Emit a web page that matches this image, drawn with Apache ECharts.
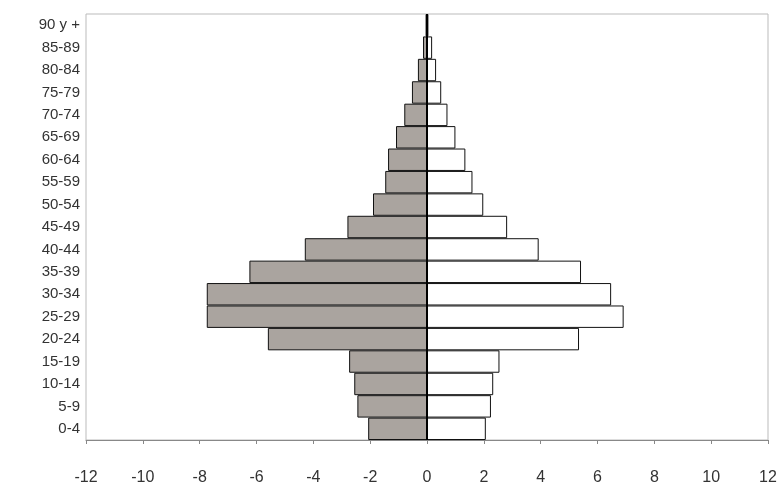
<!DOCTYPE html>
<html><head><meta charset="utf-8">
<script src="https://cdn.jsdelivr.net/npm/echarts@6/dist/echarts.min.js"></script>
<style>html,body{margin:0;background:#fff}#c{width:783px;height:489px}</style>
</head><body><div id="c"></div>
<script>
// age groups, bottom to top
const ageGroups = ['0-4','5-9','10-14','15-19','20-24','25-29','30-34','35-39','40-44','45-49','50-54','55-59','60-64','65-69','70-74','75-79','80-84','85-89','90 y +'];
// left side (negative) and right side shares, %
const leftValues = [-2.07,-2.45,-2.56,-2.74,-5.6,-7.75,-7.75,-6.25,-4.3,-2.8,-1.9,-1.47,-1.37,-1.09,-0.8,-0.53,-0.32,-0.14,-0.05];
const rightValues = [2.07,2.25,2.33,2.55,5.35,6.92,6.48,5.42,3.93,2.82,1.98,1.6,1.35,1.0,0.72,0.5,0.32,0.18,0.05];

const chart = echarts.init(document.getElementById('c'));
const font = 'Liberation Sans, Arial, sans-serif';
chart.setOption({
  animation: false,
  grid: { left: 86, right: 15, top: 14, bottom: 49, show: true, borderColor: '#bbb', borderWidth: 1 },
  xAxis: {
    type: 'value', min: -12, max: 12, interval: 2,
    axisLine: { show: true, lineStyle: { color: '#888' } },
    axisTick: { show: true, inside: false, length: 4, lineStyle: { color: '#888' } },
    splitLine: { show: false },
    axisLabel: { color: '#333', fontSize: 16, fontFamily: font, margin: 30 }
  },
  yAxis: {
    type: 'category', data: ageGroups,
    axisLine: { show: false }, axisTick: { show: false },
    axisLabel: { color: '#333', fontSize: 15, fontFamily: font, margin: 6, interval: 0 }
  },
  series: [
    { type: 'bar', stack: 'a', data: leftValues, barCategoryGap: 0,
      itemStyle: { color: '#aaa49f', borderColor: '#111', borderWidth: 1 } },
    { type: 'bar', stack: 'a', data: rightValues, barCategoryGap: 0,
      itemStyle: { color: '#fff', borderColor: '#111', borderWidth: 1 },
      markLine: { symbol: 'none', silent: true, label: { show: false },
        lineStyle: { color: '#000', width: 2, type: 'solid' }, data: [{ xAxis: 0 }] } }
  ]
});
</script></body></html>
